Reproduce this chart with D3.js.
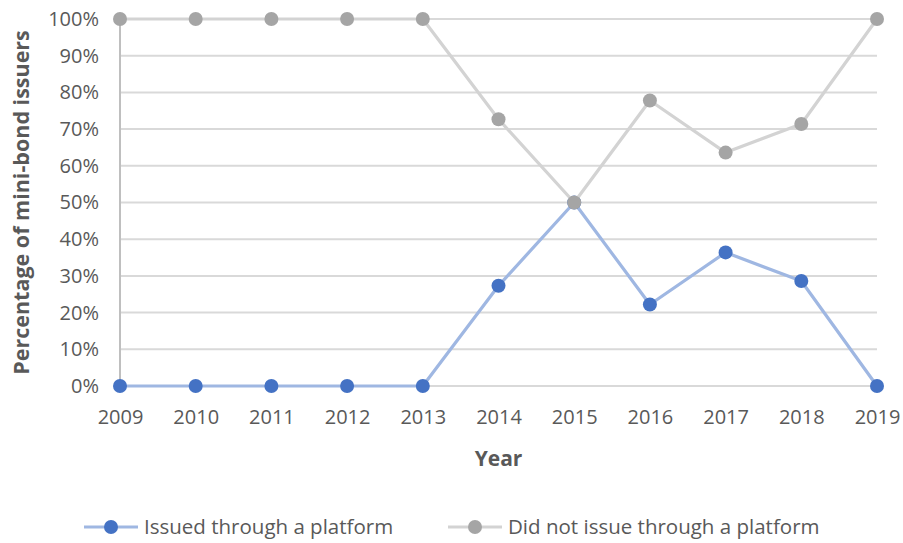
<!DOCTYPE html>
<html>
<head>
<meta charset="utf-8">
<script src="https://cdn.jsdelivr.net/npm/d3@7"></script>
<style>
  html, body { margin: 0; padding: 0; background: #fff; }
  svg text { font-family: "Open Sans", Lato, sans-serif; fill: #595959; }
</style>
</head>
<body>
<svg id="chart" width="903" height="543"></svg>
<script>
// Share of mini-bond issuers by year, split by whether they issued through a platform
const years = [2009, 2010, 2011, 2012, 2013, 2014, 2015, 2016, 2017, 2018, 2019];
const issuedPlatform = [0, 0, 0, 0, 0, 0.273, 0.5, 0.222, 0.364, 0.286, 0];
const notPlatform    = [1, 1, 1, 1, 1, 0.727, 0.5, 0.778, 0.636, 0.714, 1];
const yTicks = [0, 0.1, 0.2, 0.3, 0.4, 0.5, 0.6, 0.7, 0.8, 0.9, 1];

const series = [
  { name: "Issued through a platform", values: issuedPlatform, line: "#9fb7e2", dot: "#4472c4" },
  { name: "Did not issue through a platform", values: notPlatform, line: "#d3d3d3", dot: "#a5a5a5" }
];

const svg = d3.select("#chart");
const m = { left: 120, right: 26, top: 19, bottom: 157 };
const W = 903, H = 543;
const tickFont = 20;

const x = d3.scalePoint().domain(years).range([m.left, W - m.right]);
const y = d3.scaleLinear().domain([0, 1]).range([H - m.bottom, m.top]);

// horizontal gridlines
svg.append("g")
  .selectAll("line")
  .data(yTicks)
  .join("line")
  .attr("x1", m.left).attr("x2", W - m.right)
  .attr("y1", d => y(d)).attr("y2", d => y(d))
  .attr("stroke", "#d9d9d9").attr("stroke-width", 2);

// vertical axis line
svg.append("line")
  .attr("x1", m.left).attr("x2", m.left)
  .attr("y1", y(1)).attr("y2", y(0))
  .attr("stroke", "#bfbfbf").attr("stroke-width", 2);

// y axis
const yAxis = svg.append("g")
  .attr("transform", `translate(${m.left},0)`)
  .call(d3.axisLeft(y).tickValues(yTicks).tickFormat(d3.format(".0%")).tickSize(0).tickPadding(21));
yAxis.select(".domain").remove();
yAxis.selectAll("text").attr("font-size", tickFont).style("fill", "#595959")
  .style("font-family", '"Open Sans", Lato, sans-serif');

// x axis
const xAxis = svg.append("g")
  .attr("transform", `translate(0,${y(0)})`)
  .call(d3.axisBottom(x).tickFormat(d3.format("d")).tickSize(0).tickPadding(24));
xAxis.select(".domain").remove();
xAxis.selectAll("text").attr("font-size", tickFont).style("fill", "#595959")
  .style("font-family", '"Open Sans", Lato, sans-serif');

// axis titles
svg.append("text")
  .attr("x", (m.left + W - m.right) / 2).attr("y", 466)
  .attr("text-anchor", "middle")
  .attr("font-size", 21).attr("font-weight", "bold")
  .text("Year");

svg.append("text")
  .attr("transform", `translate(29,${(y(0) + y(1)) / 2}) rotate(-90)`)
  .attr("text-anchor", "middle")
  .attr("font-size", 21.5).attr("font-weight", "bold")
  .text("Percentage of mini-bond issuers");

// series lines and markers
const line = d3.line().x((d, i) => x(years[i])).y(d => y(d));
series.forEach(s => {
  const g = svg.append("g");
  g.append("path")
    .attr("d", line(s.values))
    .attr("fill", "none")
    .attr("stroke", s.line)
    .attr("stroke-width", 3.2)
    .attr("stroke-linejoin", "round");
  g.selectAll("circle")
    .data(s.values)
    .join("circle")
    .attr("cx", (d, i) => x(years[i]))
    .attr("cy", d => y(d))
    .attr("r", 7)
    .attr("fill", s.dot);
});

// legend
const legendItems = [
  { s: series[0], x0: 84 },
  { s: series[1], x0: 448 }
];
const ly = 527;
legendItems.forEach(({ s, x0 }) => {
  const g = svg.append("g");
  g.append("line")
    .attr("x1", x0).attr("x2", x0 + 54)
    .attr("y1", ly).attr("y2", ly)
    .attr("stroke", s.line).attr("stroke-width", 3.2);
  g.append("circle")
    .attr("cx", x0 + 27).attr("cy", ly).attr("r", 7).attr("fill", s.dot);
  g.append("text")
    .attr("x", x0 + 60).attr("y", ly).attr("dy", "0.35em")
    .attr("font-size", 20.5)
    .text(s.name);
});
</script>
</body>
</html>
